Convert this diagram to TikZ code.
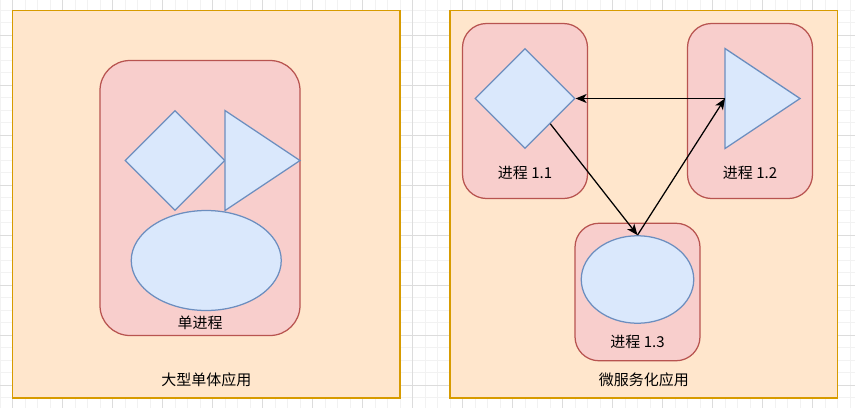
\documentclass[tikz,border=0pt]{standalone}
\usepackage{fontspec}
\newfontfamily\cjk{Noto Sans CJK SC}
\usetikzlibrary{shapes.geometric,arrows.meta}
\definecolor{ofill}{HTML}{FFE6CC}
\definecolor{ostroke}{HTML}{D79B00}
\definecolor{rfill}{HTML}{F8CECC}
\definecolor{rstroke}{HTML}{B85450}
\definecolor{bfill}{HTML}{DAE8FC}
\definecolor{bstroke}{HTML}{6C8EBF}
\definecolor{gminor}{HTML}{F2F2F2}
\definecolor{gmajor}{HTML}{DCDCDC}
\begin{document}
\begin{tikzpicture}[x=1pt,y=-1pt,
  minorgrid/.style={draw=gminor,line width=1pt},
  majorgrid/.style={draw=gmajor,line width=1pt},
  appbox/.style={draw=ostroke,fill=ofill,line width=1.25pt,rectangle,inner sep=0pt},
  procbox/.style={draw=rstroke,fill=rfill,line width=1.25pt,rectangle,inner sep=0pt},
  blueshape/.style={draw=bstroke,fill=bfill,line width=1.25pt,inner sep=0pt},
  lbl/.style={font=\cjk\fontsize{15}{18}\selectfont,text=black,inner sep=0pt},
  arr/.style={draw=black,line width=1.25pt,-{Stealth[length=11pt,width=9pt,inset=3pt]}}
]
\useasboundingbox (0,0) rectangle (855,408);
\fill[white] (0,0) rectangle (855,408);
% grid
\foreach \i in {0,...,68} {\draw[minorgrid] (12.5*\i,0) -- (12.5*\i,408);}
\foreach \i in {0,...,32} {\draw[minorgrid] (0,10+12.5*\i) -- (855,10+12.5*\i);}
\foreach \i in {0,...,16} {\draw[majorgrid] (12.5+50*\i,0) -- (12.5+50*\i,408);}
\foreach \i in {0,...,7} {\draw[majorgrid] (0,35+50*\i) -- (855,35+50*\i);}
% left: monolith
\node[appbox,minimum width=387.5pt,minimum height=387.5pt] (mono) at (206.25,204.25) {};
\node[procbox,rounded corners=30pt,minimum width=200pt,minimum height=275pt] (single) at (200,198) {};
\node[blueshape,diamond,shape aspect=1,minimum width=100pt,minimum height=100pt] (dia) at (175,160.5) {};
\filldraw[draw=bstroke,fill=bfill,line width=1.25pt,line join=miter] (225,110.5) -- (300,160.5) -- (225,210.5) -- cycle;
\node[blueshape,ellipse,minimum width=150pt,minimum height=100pt] (ell) at (206.25,260.5) {};
\node[lbl] (singlelbl) at (200,322.5) {单进程};
\node[lbl] (monolbl) at (206.25,379.5) {大型单体应用};
% right: microservices
\node[appbox,minimum width=387.5pt,minimum height=387.5pt] (micro) at (643.75,204.25) {};
\node[procbox,rounded corners=24pt,minimum width=125pt,minimum height=175pt] (p11) at (525,111) {};
\node[procbox,rounded corners=24pt,minimum width=125pt,minimum height=175pt] (p12) at (750,111) {};
\node[procbox,rounded corners=24pt,minimum width=125pt,minimum height=137.5pt] (p13) at (637.5,292) {};
\node[blueshape,diamond,shape aspect=1,minimum width=100pt,minimum height=100pt] (d11) at (525,98.5) {};
\filldraw[draw=bstroke,fill=bfill,line width=1.25pt,line join=miter] (725,48.5) -- (800,98.5) -- (725,148.5) -- cycle;
\coordinate (t12) at (725,98.5);
\node[blueshape,ellipse,minimum width=112.5pt,minimum height=87.5pt] (e13) at (637.5,279.5) {};
\node[lbl] (l11) at (525,172.5) {进程 1.1};
\node[lbl] (l12) at (750,172.5) {进程 1.2};
\node[lbl] (l13) at (637.5,341.5) {进程 1.3};
\node[lbl] (microlbl) at (643.75,379.5) {微服务化应用};
% connectors
\draw[arr] (t12) -- (d11.east);
\draw[arr] (d11.south east) -- (e13.north);
\draw[arr] (e13.north) -- (t12);
\end{tikzpicture}
\end{document}
